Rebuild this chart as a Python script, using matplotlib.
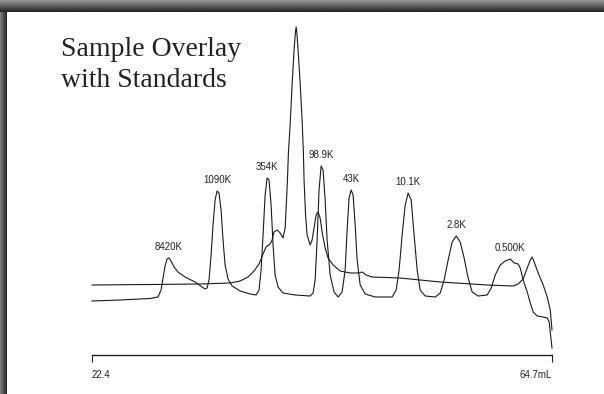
import numpy as np
import matplotlib
matplotlib.use("Agg")
import matplotlib.pyplot as plt
from matplotlib import font_manager

# ==============================
# Data
# ==============================
# standards trace: elution volume (mL) / detector signal (arb. units)
std_ml = [22.40, 24.98, 27.74, 28.47, 28.75, 28.93, 29.12, 29.30, 29.48, 29.67,
          29.94, 30.31, 30.96, 31.88, 32.52, 32.80, 32.98, 33.16, 33.35, 33.53,
          33.72, 33.90, 34.08, 34.27, 34.45, 34.64, 34.91, 35.28, 36.02, 36.94,
          37.49, 37.76, 37.95, 38.13, 38.32, 38.50, 38.68, 38.87, 39.05, 39.24,
          39.51, 39.97, 41.08, 42.46, 42.73, 42.92, 43.10, 43.28, 43.47, 43.65,
          43.84, 44.02, 44.30, 44.66, 45.03, 45.40, 45.68, 45.86, 46.04, 46.23,
          46.41, 46.60, 46.78, 47.06, 47.52, 48.44, 50.00, 50.37, 50.64, 50.92,
          51.20, 51.47, 51.75, 52.02, 52.30, 52.58, 53.04, 53.96, 54.42, 54.78,
          55.15, 55.52, 55.89, 56.26, 56.62, 56.99, 57.36, 57.91, 58.74, 59.11,
          59.48, 59.94, 60.40, 60.86, 61.22, 61.59, 61.78, 62.05, 62.42, 62.70,
          62.97, 63.34, 63.89, 64.26, 64.44, 64.54, 64.70]
std_sig = [54, 55, 56.5, 58, 65, 77, 89, 96, 97, 94,
           88, 83, 78, 73, 68, 66, 67, 75, 100, 130,
           155, 164, 162, 145, 115, 90, 76, 69, 64, 61,
           60, 65, 85, 120, 160, 177, 175, 150, 110, 80,
           68, 62, 60, 59, 62, 75, 115, 165, 189, 185,
           155, 115, 80, 63, 58, 63, 85, 125, 157, 165,
           160, 130, 95, 70, 61, 58, 58, 65, 85, 120,
           150, 162, 155, 120, 85, 65, 59, 58, 62, 75,
           95, 113, 119, 113, 97, 77, 63, 59, 60, 67,
           80, 90, 94, 96, 92, 91, 87, 75, 63, 52,
           43, 39, 38, 37, 33, 23, 7]

# sample trace
smp_ml = [22.40, 27.74, 32.34, 35.10, 36.02, 36.75, 37.30, 37.76, 38.13, 38.41,
          38.78, 38.96, 39.14, 39.42, 39.70, 39.97, 40.16, 40.29, 40.39, 40.46,
          40.62, 40.80, 40.98, 41.10, 41.17, 41.24, 41.35, 41.54, 41.72, 41.84,
          41.90, 42.04, 42.18, 42.46, 42.64, 42.82, 43.01, 43.19, 43.38, 43.56,
          43.84, 44.11, 44.57, 45.22, 46.14, 46.87, 47.24, 47.61, 48.16, 50.74,
          54.42, 58.74, 61.13, 61.59, 62.05, 62.42, 62.70, 62.88, 63.06, 63.43,
          63.89, 64.26, 64.54, 64.70]
smp_sig = [70, 70.5, 71, 72, 74, 78, 84, 91, 101, 108,
           111, 115, 123, 125, 122, 117, 127, 155, 180, 202,
           230, 270, 305, 322, 328, 322, 305, 272, 235, 202,
           175, 140, 120, 110, 115, 127, 140, 143, 137, 123,
           107, 97, 90, 84, 82, 82, 83, 80, 78, 77,
           73, 70, 69, 71, 76, 87, 95, 98, 93, 82,
           70, 58, 45, 25]

# standard peaks (apex volume) and their molecular weight labels
peak_ml = [29.48, 33.90, 38.50, 43.47, 46.23, 51.47, 55.89, 60.86]
peak_labels = ["8420K", "1090K", "354K", "98.9K", "43K", "10.1K", "2.8K", "0.500K"]

x_ticks = [22.4, 64.7]
x_ticklabels = ["22.4", "64.7mL"]

# ==============================
# Fonts
# ==============================
installed = {f.name for f in font_manager.fontManager.ttflist}
narrow = "Liberation Sans Narrow" if "Liberation Sans Narrow" in installed else "Liberation Sans"
small_size = 8 if narrow == "Liberation Sans Narrow" else 7

# ==============================
# Figure
# ==============================
fig = plt.figure(figsize=(6.04, 3.94), dpi=100)
fig.patch.set_facecolor("white")

# dark frame (top and left bars)
bg = fig.add_axes([0, 0, 1, 1], zorder=-1)
bg.set_xlim(0, 604)
bg.set_ylim(394, 0)
bg.axis("off")
top_grad = np.linspace(0.58, 0.15, 12).reshape(-1, 1)
left_grad = np.linspace(0.48, 0.16, 7).reshape(1, -1)
bg.imshow(top_grad, cmap="gray", vmin=0, vmax=1, extent=(0, 604, 12, 0), aspect="auto")
bg.imshow(left_grad, cmap="gray", vmin=0, vmax=1, extent=(0, 7, 394, 12), aspect="auto")

ax = fig.add_axes([92 / 604, 1 - 355 / 394, 460 / 604, 340 / 394])
ax.set_facecolor("none")
ax.plot(smp_ml, smp_sig, color="#1a1a1a", lw=0.8, clip_on=False)
ax.plot(std_ml, std_sig, color="#1a1a1a", lw=0.8, clip_on=False)

peak_sig = np.interp(peak_ml, std_ml, std_sig)
for xm, ym, lab in zip(peak_ml, peak_sig, peak_labels):
    ax.annotate(lab, (xm, ym), xytext=(0, 5.5), textcoords="offset points",
                ha="center", va="baseline", fontsize=small_size,
                family=narrow, color="#222222")

ax.set_xlim(x_ticks[0], x_ticks[1])
ax.set_ylim(0, 340)
for s in ["left", "top", "right"]:
    ax.spines[s].set_visible(False)
ax.spines["bottom"].set_linewidth(1.0)
ax.spines["bottom"].set_color("#222222")
ax.set_yticks([])
ax.set_xticks(x_ticks)
ax.set_xticklabels(x_ticklabels, family=narrow, fontsize=small_size, color="#222222")
ax.get_xticklabels()[0].set_ha("left")
ax.get_xticklabels()[1].set_ha("right")
ax.tick_params(axis="x", direction="out", length=5, width=0.8, pad=6, color="#222222")

# title, top-left
fig.text(61 / 604, 1 - 56 / 394, "Sample Overlay", family="Liberation Serif",
         fontsize=20, color="#222222", va="baseline", ha="left")
fig.text(61 / 604, 1 - 87 / 394, "with Standards", family="Liberation Serif",
         fontsize=20, color="#222222", va="baseline", ha="left")

fig.savefig("out.png", dpi=100)
